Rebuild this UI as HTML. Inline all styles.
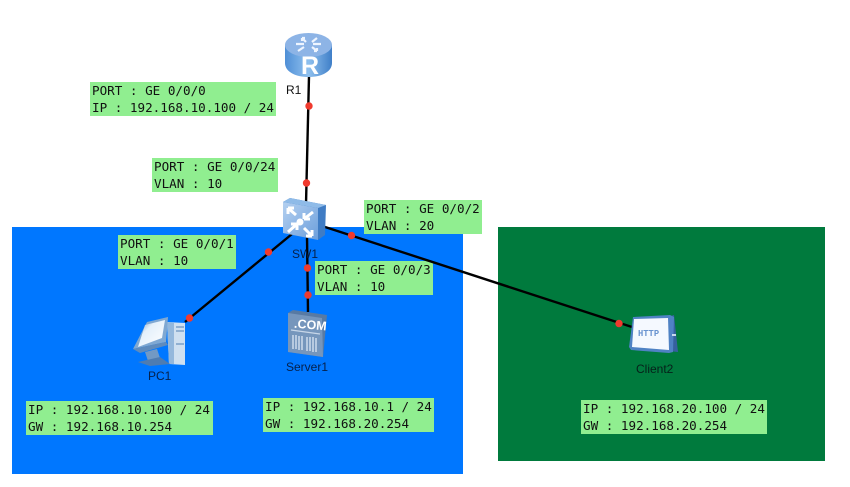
<!DOCTYPE html>
<html>
<head>
<meta charset="utf-8">
<style>
html,body{margin:0;padding:0;background:#fff;}
#c{position:relative;width:850px;height:487px;overflow:hidden;background:#fff;}
.a{position:absolute;}
.b{position:absolute;background:#90ee90;height:34px;box-sizing:border-box;padding:0 0 0 2px;font:12.6px/17px "DejaVu Sans Mono",monospace;color:#111;white-space:pre;}
.l{position:absolute;font:12px/14px "Liberation Sans",sans-serif;color:#111;white-space:pre;}
svg{position:absolute;left:0;top:0;}
</style>
</head>
<body>
<div id="c">
<div class="a" style="left:12px;top:227px;width:451px;height:247px;background:#0077ff"></div>
<div class="a" style="left:498px;top:227px;width:327px;height:234px;background:#007a3d"></div>

<div class="b" style="left:90px;top:82px;width:186px">PORT : GE 0/0/0
IP : 192.168.10.100 / 24</div>
<div class="b" style="left:152px;top:158px;width:126px">PORT : GE 0/0/24
VLAN : 10</div>
<div class="b" style="left:364px;top:200px;width:118px">PORT : GE 0/0/2
VLAN : 20</div>
<div class="b" style="left:118px;top:235px;width:118px">PORT : GE 0/0/1
VLAN : 10</div>
<div class="b" style="left:315px;top:261px;width:118px">PORT : GE 0/0/3
VLAN : 10</div>
<div class="b" style="left:26px;top:401px;width:187px">IP : 192.168.10.100 / 24
GW : 192.168.10.254</div>
<div class="b" style="left:263px;top:398px;width:171px">IP : 192.168.10.1 / 24
GW : 192.168.20.254</div>
<div class="b" style="left:581px;top:400px;width:186px">IP : 192.168.20.100 / 24
GW : 192.168.20.254</div>

<svg width="850" height="487" viewBox="0 0 850 487">
<defs>
<linearGradient id="rg" x1="0" x2="1" y1="0" y2="0"><stop offset="0" stop-color="#4f8fd6"/><stop offset=".5" stop-color="#8fc0ee"/><stop offset="1" stop-color="#3f7fc8"/></linearGradient>
<linearGradient id="sg" x1="0" x2="1" y1="0" y2="1"><stop offset="0" stop-color="#b4d0f0"/><stop offset="1" stop-color="#6c9fdc"/></linearGradient>
<linearGradient id="mg" x1="0" x2="1" y1="0" y2="1"><stop offset="0" stop-color="#6f8fb5"/><stop offset=".35" stop-color="#e4f0fb"/><stop offset="1" stop-color="#ffffff"/></linearGradient>
</defs>
<g stroke="#000" stroke-width="2.4" fill="none">
<line x1="309" y1="76" x2="306" y2="204"/>
<line x1="292" y1="234" x2="185" y2="322"/>
<line x1="307" y1="236" x2="308" y2="312"/>
<line x1="322" y1="226" x2="632" y2="327"/>
</g>

<!-- R1 -->
<path d="M285 45 V63 C285 72 296 77 308.500 77 C321 77 332 72 332 63 V45 Z" fill="url(#rg)"/>
<ellipse cx="308.500" cy="45" rx="23.500" ry="12" fill="#8db4e6"/>
<g stroke="#eef5ff" stroke-width="2.200" fill="none">
<path d="M302 38 L306 42 M302 38 V41 M302 38 H305 M317 38 L312 42 M298 51 L304 47 M317 51 L312 47 M317 51 V48 M317 51 H314 M296 44 H304 M313 44 H321"/>
</g>

<!-- SW1 -->
<path d="M283 202 L290 198 L326 205 L325 235 L318 240 Z" fill="#3f7cc4"/>
<path d="M283 202 L318 208 V240 L283 233 Z" fill="url(#sg)"/>
<path d="M283 202 L290 198 L326 205 L318 208 Z" fill="#8fbbe8"/>
<g stroke="#fff" stroke-width="3" fill="none">
<path d="M288 208 L296 215 M288 208 V214 M288 208 H294"/>
<path d="M313 212 L304 219 M304 219 V213 M304 219 H310"/>
<path d="M297 224 L288 232 M297 224 V230 M297 224 H291"/>
<path d="M304 228 L312 236 M312 236 V230 M312 236 H306"/>
</g>
<circle cx="300" cy="222" r="3.500" fill="#fff"/>

<!-- PC1 -->
<path d="M167 322 L185 323 L185 365 L169 364 Z" fill="#cfe0f0"/>
<path d="M167 322 L174 323 L174 364 L169 364 Z" fill="#94b8dc"/>
<path d="M176 327 H184 M176 331 H184 M176 344 H184" stroke="#6a94c0" stroke-width="1.200"/>
<path d="M147 322 L168 317 L166 342 L133 349 Z" fill="#7fa8d2"/>
<path d="M145 325 L165 320 L162 338 L138 347 Z" fill="url(#mg)"/>
<path d="M133 349 L166 342 L168 345 L140 353 Z" fill="#5f8bbc"/>
<path d="M145 352 L157 349 L160 358 L148 361 Z" fill="#7299c4"/>
<path d="M138 362 L160 357 L170 364 L150 366 Z" fill="#4f7cb0"/>

<!-- Server1 -->
<path d="M288 313 L293 310 L327 315 L323 357 L288 352 Z" fill="#587aa3"/>
<path d="M288 313 L322 318 L323 357 L288 352 Z" fill="#7696bc"/>
<path d="M291 330 L320 334" stroke="#c7d6e8" stroke-width="1.200"/>
<g stroke="#cddcec" stroke-width="1.500">
<path d="M293 335 V349 M296 335 V349 M299 336 V350 M302 336 V350"/>
<path d="M307 337 V351 M310 337 V351 M313 337 V352 M316 338 V352"/>
</g>

<!-- Client2 -->
<path d="M668 317 L674 315 L678 352 L668 351 Z" fill="#35609f"/>
<path d="M633 317 L670 315 L674 317 L673 352 L669 353 L631 350 L629 347 Z" fill="#4f82c4"/>
<path d="M634 319 L668 318 L669 350 L632 347 Z" fill="#f5f9ff"/>
<path d="M672 335 H676" stroke="#c8d8ec" stroke-width="2"/>
<text x="638" y="336" font-family="'Liberation Mono',monospace" font-size="8.800" font-weight="bold" fill="#6a94d0">HTTP</text>

<g fill="#f03a2e">
<circle cx="309" cy="106" r="3.700"/>
<circle cx="306.500" cy="183" r="3.700"/>
<circle cx="268.500" cy="252" r="3.700"/>
<circle cx="189.500" cy="318" r="3.700"/>
<circle cx="307.500" cy="268" r="3.700"/>
<circle cx="308" cy="295" r="3.700"/>
<circle cx="351.500" cy="235.500" r="3.700"/>
<circle cx="619" cy="323.500" r="3.700"/>
</g>
<text x="286" y="94" font-family="'Liberation Sans',sans-serif" font-size="12" fill="#111">R1</text>
<text x="292" y="258" font-family="'Liberation Sans',sans-serif" font-size="12" fill="#06204a">SW1</text>
<text x="148" y="380" font-family="'Liberation Sans',sans-serif" font-size="12" fill="#06204a">PC1</text>
<text x="286" y="371" font-family="'Liberation Sans',sans-serif" font-size="12" fill="#06204a">Server1</text>
<text x="636" y="373" font-family="'Liberation Sans',sans-serif" font-size="12" fill="#06201a">Client2</text>
</svg>
<div class="l" style="left:301px;top:53px;font:bold 25px/26px 'Liberation Sans',sans-serif;color:#fff">R</div>
<div class="l" style="left:294px;top:319px;font:bold 12.500px/13px 'Liberation Sans',sans-serif;color:#fff;transform:rotate(5deg)">.COM</div>
</div>
</body>
</html>
